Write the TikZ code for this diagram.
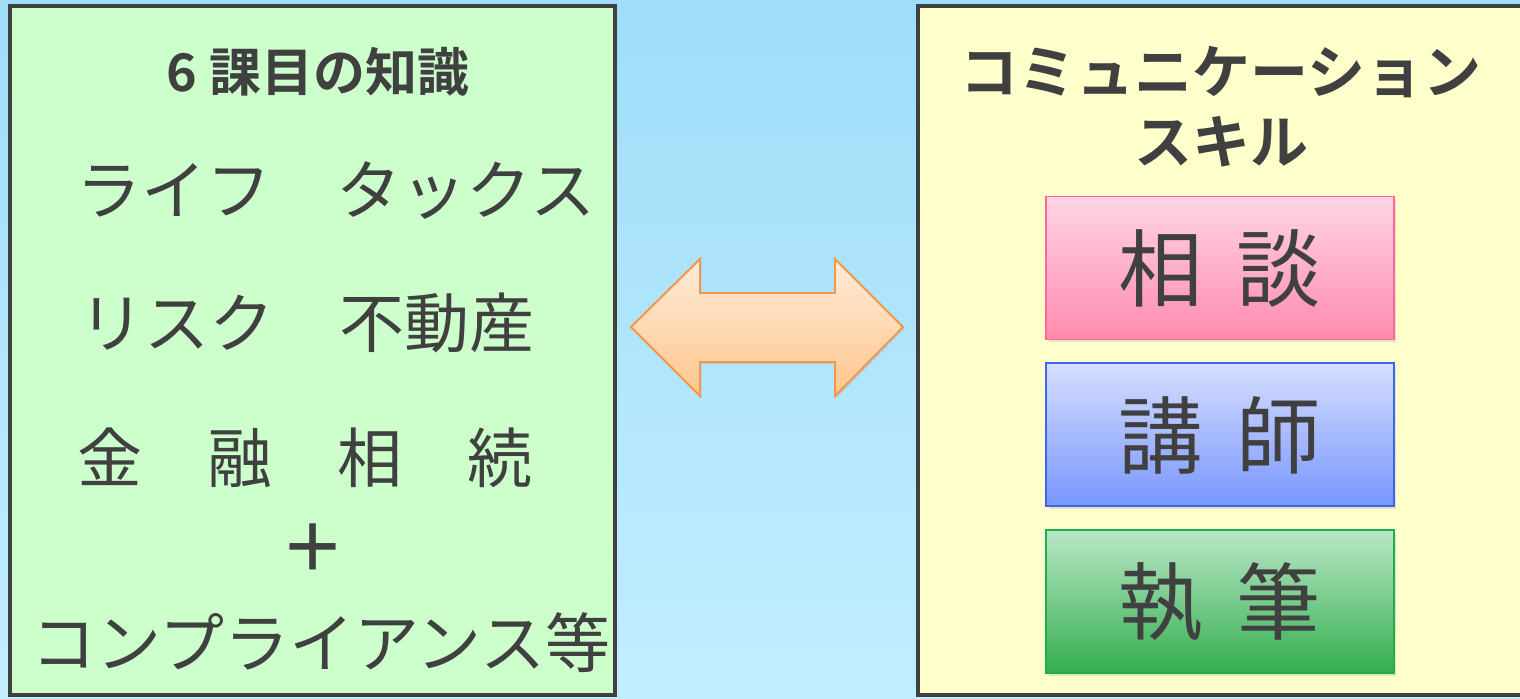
\documentclass[tikz,border=0pt]{standalone}
\usepackage{fontspec}
\newfontfamily\cjk{Noto Sans CJK JP}[BoldFont={Noto Sans CJK JP Bold}]
\usetikzlibrary{positioning, shadows}
\definecolor{ink}{HTML}{404040}
\definecolor{skytop}{HTML}{9FDDF9}
\definecolor{skybot}{HTML}{C2EEFF}
\definecolor{knowfill}{HTML}{CCFFCC}
\definecolor{skillfill}{HTML}{FFFFCC}
\definecolor{arrowline}{HTML}{F79646}
\definecolor{pinkline}{HTML}{FF6699}
\definecolor{pinktop}{HTML}{FFD5E5}
\definecolor{pinkbot}{HTML}{FF8AAE}
\definecolor{blueline}{HTML}{3A66F0}
\definecolor{bluetop}{HTML}{D6DEFF}
\definecolor{bluebot}{HTML}{7896FF}
\definecolor{greenline}{HTML}{1DAF4B}
\definecolor{greentop}{HTML}{B9E7C6}
\definecolor{greenbot}{HTML}{34AE4F}

\begin{document}
\begin{tikzpicture}[x=0.02cm, y=-0.02cm,
        every node/.style={text=ink, inner sep=0pt},
        panel/.style={draw=ink, line width=2.3pt},
        row/.style={font=\cjk\fontsize{37}{44}\selectfont},
        heading/.style={font=\cjk\bfseries\fontsize{#1}{40}\selectfont, align=center},
        skillbox/.style={minimum width=6.96cm, minimum height=2.86cm, line width=1.1pt,
            font=\cjk\fontsize{48}{56}\selectfont,
            drop shadow={shadow xshift=0.05cm, shadow yshift=-0.06cm, opacity=0.2}}]
    \useasboundingbox (0,0) rectangle (1520,698);
    \shade[top color=skytop, bottom color=skybot] (0,0) rectangle (1520,698);
    % the two panels
    \draw[panel, fill=knowfill] (10,6) rectangle (615,695);
    \draw[panel, fill=skillfill] (918,6) rectangle (1540,695);
    % knowledge side
    \node[heading=29.6] (knowtitle) at (318,72) {6 課目の知識};
    \node[row] (life) at (336,190) {ライフ　タックス};
    \node[row] (risk) at (307,323) {リスク　不動産};
    \node[row] (kinyu) at (305,458) {金　融　相　続};
    \node[row, font=\cjk\bfseries\fontsize{37}{44}\selectfont] (plus) at (313,548) {＋};
    \node[row] (comp) at (321,643) {コンプライアンス等};
    % skill side
    \node[heading=33] (skilltitle) at (1221,107) {コミュニケーション\\スキル};
    \node[skillbox, draw=pinkline, top color=pinktop, bottom color=pinkbot] (soudan) at (1220,268) {相\hspace{0.4em}談};
    \node[skillbox, draw=blueline, top color=bluetop, bottom color=bluebot, below=0.44cm of soudan] (koushi) {講\hspace{0.4em}師};
    \node[skillbox, draw=greenline, top color=greentop, bottom color=greenbot, below=0.44cm of koushi] (shippitsu) {執\hspace{0.4em}筆};
    % double arrow between the panels
    \draw[draw=arrowline, line width=1.1pt, line join=miter, top color=orange!15!white, bottom color=orange!45!white,
        drop shadow={shadow xshift=0.03cm, shadow yshift=-0.04cm, opacity=0.2}]
        (631,327) -- (700,259) -- (700,293) -- (835,293) -- (835,259) -- (903,327)
        -- (835,396) -- (835,362) -- (700,362) -- (700,396) -- cycle;
\end{tikzpicture}
\end{document}
